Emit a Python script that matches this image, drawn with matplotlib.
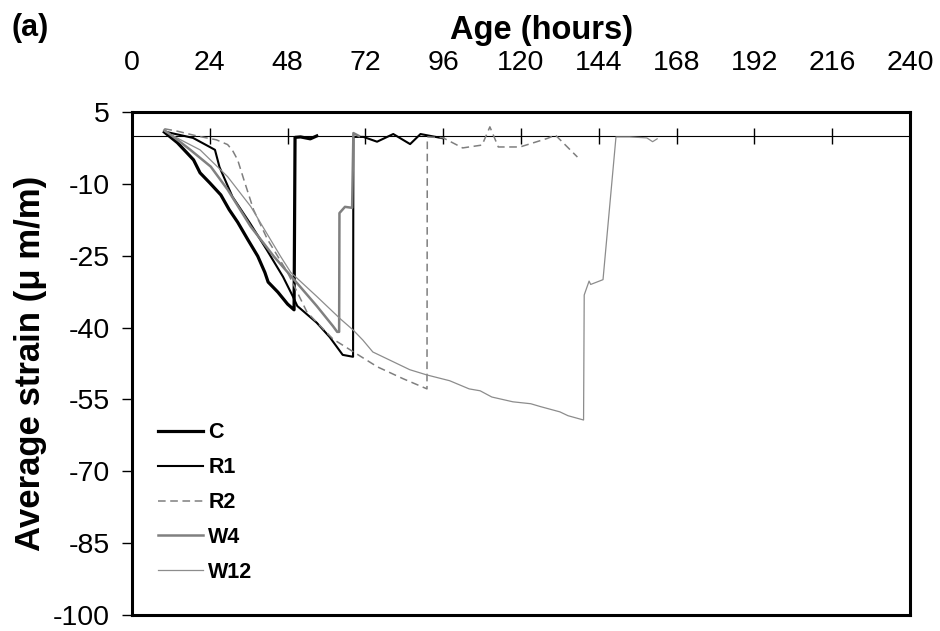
import matplotlib.pyplot as plt
import numpy as np

plt.rcParams['font.family'] = ['Liberation Sans', 'DejaVu Sans']
plt.rcParams['axes.unicode_minus'] = False

# values (hours, micro strain)
c_h = [10, 14, 19, 21, 24, 27.4, 30, 32.6, 35.7, 38.8, 41, 42, 45, 48, 50, 50.3, 52, 55, 57]
c_s = [0.8, -1.4, -5, -7.7, -9.8, -12.3, -15.4, -18, -21.6, -25.1, -28.5, -30.5, -32.6, -35.1,
       -36.3, -0.3, -0.2, -0.6, 0]

r1_h = [10.8, 18.8, 24, 25.6, 27, 31, 36.4, 41.6, 46.6, 49.7, 51, 57, 61, 65, 68.2, 68.3,
        71.4, 75.6, 80.6, 85.8, 89, 96]
r1_s = [0.8, -0.4, -2.3, -2.9, -6.5, -12.7, -18.2, -23.8, -29.4, -33.6, -35.5, -39, -42, -45.7,
        -46.1, -0.2, -0.2, -1.2, 0.4, -1.7, 0.4, -0.5]

r2_h = [10, 14, 20, 26, 29.5, 31, 32.6, 34.5, 37.5, 41.8, 48, 54, 62, 70.5, 75.7, 83.7, 91,
        91.1, 96, 102, 108, 110.4, 113, 119.7, 128.2, 130.6, 137.4]
r2_s = [1.5, 1.0, 0, -0.8, -1.8, -3, -5, -9.1, -15.4, -21.6, -28.5, -36.8, -42.4, -46, -48.2,
        -50.7, -52.8, -0.2, -0.4, -2.5, -1.9, 1.9, -2.3, -2.3, -0.5, 0.2, -4.4]

w4_h = [10, 14, 18, 24.3, 29.5, 36.6, 43.7, 50, 57, 62, 63.3, 63.9, 64.0, 65.7, 67.9, 68.3, 70]
w4_s = [1.2, -0.8, -2.9, -6.4, -11.2, -18.9, -25.1, -30, -35.5, -39.7, -40.9, -40.9, -16.1,
        -14.8, -15, 0.6, 0]

w12_h = [10, 15, 21, 29.5, 36.6, 45.8, 49, 57, 64.3, 68.2, 71.2, 74.3, 85.7, 91, 98, 104, 107.4,
         111, 117.5, 123, 126, 132, 134.5, 139.3, 139.5, 141, 141.5, 145.3, 149.3, 153.5, 158.8,
         160.6, 162]
w12_s = [1, -0.8, -2.9, -8.5, -14.7, -25.1, -28.5, -33.5, -38.2, -40.5, -42.6, -45.1, -48.8,
         -49.9, -51.1, -52.8, -53.2, -54.5, -55.5, -55.9, -56.5, -57.6, -58.4, -59.3, -33.2,
         -30.3, -31, -30, -0.2, -0.2, -0.4, -1.2, -0.6]

x_ticks = np.arange(0, 241, 24)
y_ticks = np.arange(5, -101, -15)

fig = plt.figure(figsize=(9.4, 6.31), dpi=100)
ax = fig.add_axes([0.1404, 0.0254, 0.8277, 0.7971])

ax.plot(c_h, c_s, color='black', lw=2.3, label='C')
ax.plot(r1_h, r1_s, color='black', lw=1.5, label='R1')
ax.plot(r2_h, r2_s, color='#7f7f7f', lw=1.1, ls=(0, (5, 3)), label='R2')
ax.plot(w4_h, w4_s, color='#808080', lw=1.8, label='W4')
ax.plot(w12_h, w12_s, color='#8c8c8c', lw=0.9, label='W12')

ax.set_xlim(0, 240)
ax.set_ylim(-100, 5)
for sp in ax.spines.values():
    sp.set_linewidth(2.2)

ax.set_xticks(x_ticks)
ax.xaxis.tick_top()
ax.tick_params(axis='x', length=0, labelsize=20.5, pad=26)
ax.set_yticks(y_ticks)
ax.tick_params(axis='y', direction='out', length=7, width=1, labelsize=20.5, pad=9)

# zero line carrying the hour ticks
zero = ax.secondary_xaxis(100 / 105)
zero.set_xticks(x_ticks)
zero.tick_params(direction='inout', length=12, width=1, labelbottom=False, labeltop=False)
zero.spines['bottom'].set_linewidth(0.8)
zero.spines['top'].set_linewidth(0.8)

ax.set_ylabel('Average strain (\u03bc m/m)', fontsize=25, fontweight='bold', labelpad=4)
fig.text(542 / 940, 1 - 30 / 631, 'Age (hours)', fontsize=23.5, fontweight='bold',
         ha='center', va='center')
fig.text(0.012, 1 - 28 / 631, '(a)', fontsize=22, fontweight='bold', va='center')

leg = ax.legend(loc='lower left', bbox_to_anchor=(0.008, 0.025), frameon=False,
                prop={'size': 15.5, 'weight': 'bold'}, handlelength=2.1, handletextpad=0.25,
                labelspacing=0.65)

fig.savefig('out.png', dpi=100)
